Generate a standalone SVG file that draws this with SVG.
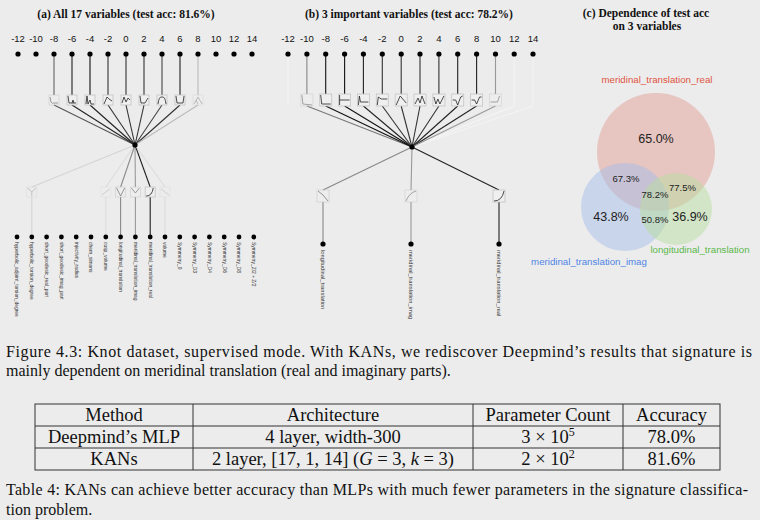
<svg xmlns="http://www.w3.org/2000/svg" width="760" height="520" viewBox="0 0 760 520">
  <style>
    .bg { fill: #ececec; }
    .title { font-family: "Liberation Serif", "Times New Roman", serif; font-weight: bold; font-size: 11.5px; fill: #111; text-anchor: middle; }
    .tick { font-family: "Liberation Sans", Arial, sans-serif; font-size: 9.5px; fill: #111; text-anchor: middle; }
    .dot { fill: #000; }
    .box { fill: #efefef; stroke: #c4c4c4; stroke-width: 0.8; }
    .act { fill: none; stroke-width: 0.8; stroke-linejoin: round; }
    .edge { fill: none; stroke-width: 1.1; }
    .vlab { font-family: "Liberation Sans", Arial, sans-serif; fill: #333; }
    .pct { font-family: "Liberation Sans", Arial, sans-serif; fill: #222; text-anchor: middle; }
    .vname { font-family: "Liberation Sans", Arial, sans-serif; font-size: 9.7px; text-anchor: middle; }
    .cap { font-family: "Liberation Serif", "Times New Roman", serif; font-size: 16px; fill: #111; }
    .tab { font-family: "Liberation Serif", "Times New Roman", serif; font-size: 18.5px; fill: #111; text-anchor: middle; }
    .grid { fill: none; stroke: #333; stroke-width: 1; }
  </style>

  <rect class="bg" x="0" y="0" width="760" height="520"/>

  <!-- Panel titles -->
  <text class="title" x="126" y="18">(a) All 17 variables (test acc: 81.6%)</text>
  <text class="title" x="409" y="18">(b) 3 important variables (test acc: 78.2%)</text>
  <text class="title" x="646" y="17">(c) Dependence of test acc</text>
  <text class="title" x="647" y="30">on 3 variables</text>

  <!-- ===================== Panel (a) ===================== -->
  <g id="a-connectors">
    <!-- output nodes to activation boxes -->
    <line class="edge" x1="54" y1="54" x2="54" y2="95" stroke="#666"/>
    <line class="edge" x1="72" y1="54" x2="72" y2="95" stroke="#222"/>
    <line class="edge" x1="90" y1="54" x2="90" y2="95" stroke="#111"/>
    <line class="edge" x1="108" y1="54" x2="108" y2="95" stroke="#333"/>
    <line class="edge" x1="126" y1="54" x2="126" y2="95" stroke="#333"/>
    <line class="edge" x1="144" y1="54" x2="144" y2="95" stroke="#333"/>
    <line class="edge" x1="162" y1="54" x2="162" y2="95" stroke="#444"/>
    <line class="edge" x1="180" y1="54" x2="180" y2="95" stroke="#222"/>
    <line class="edge" x1="198" y1="54" x2="198" y2="95" stroke="#bbb"/>
    <!-- activation boxes to hidden node -->
    <line class="edge" x1="54" y1="105" x2="135" y2="145" stroke="#555"/>
    <line class="edge" x1="72" y1="105" x2="135" y2="145" stroke="#222"/>
    <line class="edge" x1="90" y1="105" x2="135" y2="145" stroke="#222"/>
    <line class="edge" x1="108" y1="105" x2="135" y2="145" stroke="#333"/>
    <line class="edge" x1="126" y1="105" x2="135" y2="145" stroke="#333"/>
    <line class="edge" x1="144" y1="105" x2="135" y2="145" stroke="#333"/>
    <line class="edge" x1="162" y1="105" x2="135" y2="145" stroke="#444"/>
    <line class="edge" x1="180" y1="105" x2="135" y2="145" stroke="#333"/>
    <line class="edge" x1="198" y1="105" x2="135" y2="145" stroke="#bbb"/>
    <!-- hidden node to input activation boxes -->
    <line class="edge" x1="135" y1="145" x2="31.8" y2="187" stroke="#d4d4d4"/>
    <line class="edge" x1="135" y1="145" x2="105.8" y2="187" stroke="#dcdcdc"/>
    <line class="edge" x1="135" y1="145" x2="120.6" y2="187" stroke="#8a8a8a"/>
    <line class="edge" x1="135" y1="145" x2="135.4" y2="187" stroke="#999"/>
    <line class="edge" x1="135" y1="145" x2="150.2" y2="187" stroke="#222"/>
    <line class="edge" x1="135" y1="145" x2="165" y2="187" stroke="#dcdcdc"/>
    <!-- input activation boxes to input nodes -->
    <line class="edge" x1="31.8" y1="197" x2="31.8" y2="237" stroke="#d4d4d4"/>
    <line class="edge" x1="105.8" y1="197" x2="105.8" y2="237" stroke="#dcdcdc"/>
    <line class="edge" x1="120.6" y1="197" x2="120.6" y2="237" stroke="#8a8a8a"/>
    <line class="edge" x1="135.4" y1="197" x2="135.4" y2="237" stroke="#999"/>
    <line class="edge" x1="150.2" y1="197" x2="150.2" y2="237" stroke="#222"/>
    <line class="edge" x1="165" y1="197" x2="165" y2="237" stroke="#dcdcdc"/>
  </g>

  <!-- activation functions, panel (a) upper layer -->
  <g id="a-act-top">
    <g transform="translate(49,95)" opacity="0.55"><rect class="box" width="10" height="10"/><path class="act" stroke="#333" d="M1,2 L2,7 Q3,9 5,8 L9,8"/></g>
    <g transform="translate(67,95)"><rect class="box" width="10" height="10"/><path class="act" stroke="#222" d="M1,1 L2,8 L9,8 M5,8 L6,5 L7,8"/></g>
    <g transform="translate(85,95)"><rect class="box" width="10" height="10"/><path class="act" stroke="#222" d="M1,9 L2,1 L3,9 L5,5 L6,9 L9,9"/></g>
    <g transform="translate(103,95)"><rect class="box" width="10" height="10"/><path class="act" stroke="#222" d="M1,9 L4,2 L6,4 L9,6"/></g>
    <g transform="translate(121,95)"><rect class="box" width="10" height="10"/><path class="act" stroke="#222" d="M1,8 L3,2 L5,7 L7,3 L9,5"/></g>
    <g transform="translate(139,95)"><rect class="box" width="10" height="10"/><path class="act" stroke="#222" d="M1,1 L2,8 L6,8 L9,3"/></g>
    <g transform="translate(157,95)"><rect class="box" width="10" height="10"/><path class="act" stroke="#222" d="M1,9 Q2,1 5,2 Q8,1 9,9"/></g>
    <g transform="translate(175,95)"><rect class="box" width="10" height="10"/><path class="act" stroke="#222" d="M1,1 L2,8 L8,8 L9,1"/></g>
    <g transform="translate(193,95)" opacity="0.35"><rect class="box" width="10" height="10"/><path class="act" stroke="#333" d="M1,9 L5,2 L9,9 M3,5 L5,9"/></g>
  </g>

  <!-- activation functions, panel (a) lower layer -->
  <g id="a-act-bottom">
    <g transform="translate(26.8,187)" opacity="0.3"><rect class="box" width="10" height="10"/><path class="act" stroke="#333" d="M1,1 L5,5 L9,1 M5,5 L5,9"/></g>
    <g transform="translate(100.8,187)" opacity="0.2"><rect class="box" width="10" height="10"/><path class="act" stroke="#333" d="M1,8 L9,2"/></g>
    <g transform="translate(115.6,187)" opacity="0.6"><rect class="box" width="10" height="10"/><path class="act" stroke="#333" d="M1,1 L5,9 L9,1"/></g>
    <g transform="translate(130.4,187)" opacity="0.55"><rect class="box" width="10" height="10"/><path class="act" stroke="#333" d="M1,1 L5,6 L9,1"/></g>
    <g transform="translate(145.2,187)"><rect class="box" width="10" height="10" stroke="#888"/><path class="act" stroke="#222" d="M1,9 Q7,9 8,1"/></g>
    <g transform="translate(160,187)" opacity="0.2"><rect class="box" width="10" height="10"/><path class="act" stroke="#333" d="M1,2 L9,8"/></g>
  </g>

  <!-- output nodes, panel (a) -->
  <g id="a-out-m12"><circle class="dot" cx="18" cy="54" r="2.6"/><text class="tick" x="18" y="42">-12</text></g>
  <g id="a-out-m10"><circle class="dot" cx="36" cy="54" r="2.6"/><text class="tick" x="36" y="42">-10</text></g>
  <g id="a-out-m8"><circle class="dot" cx="54" cy="54" r="2.6"/><text class="tick" x="54" y="42">-8</text></g>
  <g id="a-out-m6"><circle class="dot" cx="72" cy="54" r="2.6"/><text class="tick" x="72" y="42">-6</text></g>
  <g id="a-out-m4"><circle class="dot" cx="90" cy="54" r="2.6"/><text class="tick" x="90" y="42">-4</text></g>
  <g id="a-out-m2"><circle class="dot" cx="108" cy="54" r="2.6"/><text class="tick" x="108" y="42">-2</text></g>
  <g id="a-out-0"><circle class="dot" cx="126" cy="54" r="2.6"/><text class="tick" x="126" y="42">0</text></g>
  <g id="a-out-2"><circle class="dot" cx="144" cy="54" r="2.6"/><text class="tick" x="144" y="42">2</text></g>
  <g id="a-out-4"><circle class="dot" cx="162" cy="54" r="2.6"/><text class="tick" x="162" y="42">4</text></g>
  <g id="a-out-6"><circle class="dot" cx="180" cy="54" r="2.6"/><text class="tick" x="180" y="42">6</text></g>
  <g id="a-out-8"><circle class="dot" cx="198" cy="54" r="2.6"/><text class="tick" x="198" y="42">8</text></g>
  <g id="a-out-10"><circle class="dot" cx="216" cy="54" r="2.6"/><text class="tick" x="216" y="42">10</text></g>
  <g id="a-out-12"><circle class="dot" cx="234" cy="54" r="2.6"/><text class="tick" x="234" y="42">12</text></g>
  <g id="a-out-14"><circle class="dot" cx="252" cy="54" r="2.6"/><text class="tick" x="252" y="42">14</text></g>

  <!-- hidden node, panel (a) -->
  <g id="a-hidden"><circle class="dot" cx="135" cy="145" r="2.6"/></g>

  <!-- input nodes, panel (a) -->
  <g id="a-in-0"><circle class="dot" cx="17" cy="237" r="2.4"/><text class="vlab" font-size="4.9" transform="translate(15.4,242) rotate(90)">hyperbolic_adjoint_torsion_degree</text></g>
  <g id="a-in-1"><circle class="dot" cx="31.8" cy="237" r="2.4"/><text class="vlab" font-size="4.9" transform="translate(30.2,242) rotate(90)">hyperbolic_torsion_degree</text></g>
  <g id="a-in-2"><circle class="dot" cx="46.6" cy="237" r="2.4"/><text class="vlab" font-size="4.9" transform="translate(45,242) rotate(90)">short_geodesic_real_part</text></g>
  <g id="a-in-3"><circle class="dot" cx="61.4" cy="237" r="2.4"/><text class="vlab" font-size="4.9" transform="translate(59.8,242) rotate(90)">short_geodesic_imag_part</text></g>
  <g id="a-in-4"><circle class="dot" cx="76.2" cy="237" r="2.4"/><text class="vlab" font-size="4.9" transform="translate(74.6,242) rotate(90)">injectivity_radius</text></g>
  <g id="a-in-5"><circle class="dot" cx="91" cy="237" r="2.4"/><text class="vlab" font-size="4.9" transform="translate(89.4,242) rotate(90)">chern_simons</text></g>
  <g id="a-in-6"><circle class="dot" cx="105.8" cy="237" r="2.4"/><text class="vlab" font-size="4.9" transform="translate(104.2,242) rotate(90)">cusp_volume</text></g>
  <g id="a-in-7"><circle class="dot" cx="120.6" cy="237" r="2.4"/><text class="vlab" font-size="4.9" transform="translate(119,242) rotate(90)">longitudinal_translation</text></g>
  <g id="a-in-8"><circle class="dot" cx="135.4" cy="237" r="2.4"/><text class="vlab" font-size="4.9" transform="translate(133.8,242) rotate(90)">meridinal_translation_imag</text></g>
  <g id="a-in-9"><circle class="dot" cx="150.2" cy="237" r="2.4"/><text class="vlab" font-size="4.9" transform="translate(148.6,242) rotate(90)">meridinal_translation_real</text></g>
  <g id="a-in-10"><circle class="dot" cx="165" cy="237" r="2.4"/><text class="vlab" font-size="4.9" transform="translate(163.4,242) rotate(90)">volume</text></g>
  <g id="a-in-11"><circle class="dot" cx="179.8" cy="237" r="2.4"/><text class="vlab" font-size="4.9" transform="translate(178.2,242) rotate(90)">Symmetry_0</text></g>
  <g id="a-in-12"><circle class="dot" cx="194.6" cy="237" r="2.4"/><text class="vlab" font-size="4.9" transform="translate(193,242) rotate(90)">Symmetry_D3</text></g>
  <g id="a-in-13"><circle class="dot" cx="209.4" cy="237" r="2.4"/><text class="vlab" font-size="4.9" transform="translate(207.8,242) rotate(90)">Symmetry_D4</text></g>
  <g id="a-in-14"><circle class="dot" cx="224.2" cy="237" r="2.4"/><text class="vlab" font-size="4.9" transform="translate(222.6,242) rotate(90)">Symmetry_D6</text></g>
  <g id="a-in-15"><circle class="dot" cx="239" cy="237" r="2.4"/><text class="vlab" font-size="4.9" transform="translate(237.4,242) rotate(90)">Symmetry_D8</text></g>
  <g id="a-in-16"><circle class="dot" cx="253.8" cy="237" r="2.4"/><text class="vlab" font-size="4.9" transform="translate(252.2,242) rotate(90)">Symmetry_Z/2 + Z/2</text></g>

  <!-- ===================== Panel (b) ===================== -->
  <g id="b-connectors">
    <!-- near-invisible pruned edges -->
    <line class="edge" x1="288" y1="54" x2="288" y2="106" stroke="#f4f4f4"/>
    <line class="edge" x1="514.2" y1="54" x2="514.2" y2="106" stroke="#f4f4f4"/>
    <line class="edge" x1="533" y1="54" x2="533" y2="106" stroke="#f4f4f4"/>
    <line class="edge" x1="514.2" y1="106" x2="412" y2="147" stroke="#f4f4f4"/>
    <line class="edge" x1="533" y1="106" x2="412" y2="147" stroke="#f4f4f4"/>
    <!-- output nodes to activation boxes -->
    <line class="edge" x1="306.9" y1="54" x2="306.9" y2="94" stroke="#888"/>
    <line class="edge" x1="325.7" y1="54" x2="325.7" y2="94" stroke="#111"/>
    <line class="edge" x1="344.6" y1="54" x2="344.6" y2="94" stroke="#111"/>
    <line class="edge" x1="363.4" y1="54" x2="363.4" y2="94" stroke="#222"/>
    <line class="edge" x1="382.3" y1="54" x2="382.3" y2="94" stroke="#333"/>
    <line class="edge" x1="401.2" y1="54" x2="401.2" y2="94" stroke="#333"/>
    <line class="edge" x1="420" y1="54" x2="420" y2="94" stroke="#333"/>
    <line class="edge" x1="438.9" y1="54" x2="438.9" y2="94" stroke="#333"/>
    <line class="edge" x1="457.7" y1="54" x2="457.7" y2="94" stroke="#222"/>
    <line class="edge" x1="476.6" y1="54" x2="476.6" y2="94" stroke="#222"/>
    <line class="edge" x1="495.5" y1="54" x2="495.5" y2="94" stroke="#999"/>
    <!-- activation boxes to hidden node -->
    <line class="edge" x1="306.9" y1="106" x2="412" y2="147" stroke="#777"/>
    <line class="edge" x1="325.7" y1="106" x2="412" y2="147" stroke="#111"/>
    <line class="edge" x1="344.6" y1="106" x2="412" y2="147" stroke="#111"/>
    <line class="edge" x1="363.4" y1="106" x2="412" y2="147" stroke="#222"/>
    <line class="edge" x1="382.3" y1="106" x2="412" y2="147" stroke="#333"/>
    <line class="edge" x1="401.2" y1="106" x2="412" y2="147" stroke="#333"/>
    <line class="edge" x1="420" y1="106" x2="412" y2="147" stroke="#333"/>
    <line class="edge" x1="438.9" y1="106" x2="412" y2="147" stroke="#333"/>
    <line class="edge" x1="457.7" y1="106" x2="412" y2="147" stroke="#222"/>
    <line class="edge" x1="476.6" y1="106" x2="412" y2="147" stroke="#222"/>
    <line class="edge" x1="495.5" y1="106" x2="412" y2="147" stroke="#999"/>
    <!-- hidden node to the three inputs -->
    <line class="edge" x1="412" y1="147" x2="323" y2="190" stroke="#888"/>
    <line class="edge" x1="412" y1="147" x2="411" y2="190" stroke="#999"/>
    <line class="edge" x1="412" y1="147" x2="499" y2="190" stroke="#222"/>
    <line class="edge" x1="323" y1="202" x2="323" y2="244" stroke="#888"/>
    <line class="edge" x1="411" y1="202" x2="411" y2="244" stroke="#999"/>
    <line class="edge" x1="499" y1="202" x2="499" y2="244" stroke="#222"/>
  </g>

  <!-- activation functions, panel (b) upper layer -->
  <g id="b-act-top">
    <g transform="translate(300.9,94)" opacity="0.5"><rect class="box" width="12" height="12"/><path class="act" stroke="#333" d="M1,1 L2,10 L11,11"/></g>
    <g transform="translate(319.7,94)"><rect class="box" width="12" height="12"/><path class="act" stroke="#222" d="M1,1 L2,10 L11,10"/></g>
    <g transform="translate(338.6,94)"><rect class="box" width="12" height="12"/><path class="act" stroke="#222" d="M1,1 L1,11 M1,6 L11,6"/></g>
    <g transform="translate(357.4,94)"><rect class="box" width="12" height="12"/><path class="act" stroke="#222" d="M1,11 L2,2 L3,8 L11,8"/></g>
    <g transform="translate(376.3,94)"><rect class="box" width="12" height="12"/><path class="act" stroke="#222" d="M1,11 L2,3 L5,5 L11,5"/></g>
    <g transform="translate(395.2,94)"><rect class="box" width="12" height="12"/><path class="act" stroke="#222" d="M1,11 L5,2 L11,9"/></g>
    <g transform="translate(414,94)"><rect class="box" width="12" height="12"/><path class="act" stroke="#222" d="M1,10 L4,4 L6,9 L8,2 L11,10"/></g>
    <g transform="translate(432.9,94)"><rect class="box" width="12" height="12"/><path class="act" stroke="#222" d="M1,3 L3,10 L5,5 L7,10 L11,2"/></g>
    <g transform="translate(451.7,94)"><rect class="box" width="12" height="12"/><path class="act" stroke="#222" d="M1,6 L4,6 L6,11 L9,3 L11,2"/></g>
    <g transform="translate(470.6,94)"><rect class="box" width="12" height="12"/><path class="act" stroke="#222" d="M1,6 L4,6 L6,10 L9,3 L11,3"/></g>
    <g transform="translate(489.5,94)" opacity="0.5"><rect class="box" width="12" height="12"/><path class="act" stroke="#333" d="M1,8 L8,8 L10,2"/></g>
  </g>

  <!-- activation functions, panel (b) lower layer -->
  <g id="b-act-bottom">
    <g transform="translate(317,190)" opacity="0.6"><rect class="box" width="12" height="12"/><path class="act" stroke="#333" d="M1,1 Q6,4 11,11"/></g>
    <g transform="translate(405,190)" opacity="0.5"><rect class="box" width="12" height="12"/><path class="act" stroke="#333" d="M1,11 Q4,3 11,1"/></g>
    <g transform="translate(493,190)"><rect class="box" width="12" height="12" stroke="#888"/><path class="act" stroke="#222" d="M1,11 Q9,11 11,1"/></g>
  </g>

  <!-- output nodes, panel (b) -->
  <g id="b-out-m12"><circle class="dot" cx="288" cy="54" r="2.6"/><text class="tick" x="288" y="42">-12</text></g>
  <g id="b-out-m10"><circle class="dot" cx="306.9" cy="54" r="2.6"/><text class="tick" x="306.9" y="42">-10</text></g>
  <g id="b-out-m8"><circle class="dot" cx="325.7" cy="54" r="2.6"/><text class="tick" x="325.7" y="42">-8</text></g>
  <g id="b-out-m6"><circle class="dot" cx="344.6" cy="54" r="2.6"/><text class="tick" x="344.6" y="42">-6</text></g>
  <g id="b-out-m4"><circle class="dot" cx="363.4" cy="54" r="2.6"/><text class="tick" x="363.4" y="42">-4</text></g>
  <g id="b-out-m2"><circle class="dot" cx="382.3" cy="54" r="2.6"/><text class="tick" x="382.3" y="42">-2</text></g>
  <g id="b-out-0"><circle class="dot" cx="401.2" cy="54" r="2.6"/><text class="tick" x="401.2" y="42">0</text></g>
  <g id="b-out-2"><circle class="dot" cx="420" cy="54" r="2.6"/><text class="tick" x="420" y="42">2</text></g>
  <g id="b-out-4"><circle class="dot" cx="438.9" cy="54" r="2.6"/><text class="tick" x="438.9" y="42">4</text></g>
  <g id="b-out-6"><circle class="dot" cx="457.7" cy="54" r="2.6"/><text class="tick" x="457.7" y="42">6</text></g>
  <g id="b-out-8"><circle class="dot" cx="476.6" cy="54" r="2.6"/><text class="tick" x="476.6" y="42">8</text></g>
  <g id="b-out-10"><circle class="dot" cx="495.5" cy="54" r="2.6"/><text class="tick" x="495.5" y="42">10</text></g>
  <g id="b-out-12"><circle class="dot" cx="514.2" cy="54" r="2.6"/><text class="tick" x="514.2" y="42">12</text></g>
  <g id="b-out-14"><circle class="dot" cx="533" cy="54" r="2.6"/><text class="tick" x="533" y="42">14</text></g>

  <!-- hidden node, panel (b) -->
  <g id="b-hidden"><circle class="dot" cx="412" cy="147" r="2.6"/></g>

  <!-- input nodes, panel (b) -->
  <g id="b-in-long"><circle class="dot" cx="323" cy="244" r="2.6"/><text class="vlab" font-size="5.8" transform="translate(321,250) rotate(90)">longitudinal_translation</text></g>
  <g id="b-in-imag"><circle class="dot" cx="411" cy="244" r="2.6"/><text class="vlab" font-size="5.8" transform="translate(409,250) rotate(90)">meridinal_translation_imag</text></g>
  <g id="b-in-real"><circle class="dot" cx="499" cy="244" r="2.6"/><text class="vlab" font-size="5.8" transform="translate(497,250) rotate(90)">meridinal_translation_real</text></g>

  <!-- ===================== Panel (c): Venn diagram ===================== -->
  <g id="venn">
    <circle cx="656" cy="152" r="59" fill="#e29e95" fill-opacity="0.5"/>
    <circle cx="625" cy="207" r="44" fill="#a6bee8" fill-opacity="0.5"/>
    <circle cx="676" cy="209" r="36" fill="#b8dea0" fill-opacity="0.5"/>
    <text class="vname" x="657" y="83" fill="#e0533f">meridinal_translation_real</text>
    <text class="vname" x="589" y="265" fill="#4f84e6">meridinal_translation_imag</text>
    <text class="vname" x="700" y="253" fill="#5bb84a">longitudinal_translation</text>
    <text class="pct" x="656" y="143" font-size="12.5">65.0%</text>
    <text class="pct" x="611" y="221" font-size="12.5">43.8%</text>
    <text class="pct" x="690" y="221" font-size="12.5">36.9%</text>
    <text class="pct" x="626" y="182" font-size="9.5">67.3%</text>
    <text class="pct" x="682.5" y="191" font-size="9.5">77.5%</text>
    <text class="pct" x="655" y="198" font-size="9.5">78.2%</text>
    <text class="pct" x="655" y="223" font-size="9.5">50.8%</text>
  </g>

  <!-- ===================== Figure caption ===================== -->
  <text class="cap" x="6" y="357" textLength="746" lengthAdjust="spacing">Figure 4.3: Knot dataset, supervised mode.  With KANs, we rediscover Deepmind’s results that signature is</text>
  <text class="cap" x="6" y="376">mainly dependent on meridinal translation (real and imaginary parts).</text>

  <!-- ===================== Table ===================== -->
  <g id="table">
    <rect class="grid" x="35" y="404" width="685" height="66"/>
    <line class="grid" x1="35" y1="426" x2="720" y2="426"/>
    <line class="grid" x1="35" y1="448" x2="720" y2="448"/>
    <line class="grid" x1="193" y1="404" x2="193" y2="470"/>
    <line class="grid" x1="473" y1="404" x2="473" y2="470"/>
    <line class="grid" x1="623" y1="404" x2="623" y2="470"/>

    <text class="tab" x="114" y="421">Method</text>
    <text class="tab" x="333" y="421">Architecture</text>
    <text class="tab" x="548" y="421">Parameter Count</text>
    <text class="tab" x="671.5" y="421">Accuracy</text>

    <text class="tab" x="114" y="443">Deepmind’s MLP</text>
    <text class="tab" x="333" y="443">4 layer, width-300</text>
    <text class="tab" x="548" y="443">3 × 10<tspan font-size="12" dy="-7">5</tspan></text>
    <text class="tab" x="671.5" y="443">78.0%</text>

    <text class="tab" x="114" y="465">KANs</text>
    <text class="tab" x="333" y="465">2 layer, [17, 1, 14] (<tspan font-style="italic">G</tspan> = 3, <tspan font-style="italic">k</tspan> = 3)</text>
    <text class="tab" x="548" y="465">2 × 10<tspan font-size="12" dy="-7">2</tspan></text>
    <text class="tab" x="671.5" y="465">81.6%</text>
  </g>

  <!-- ===================== Table caption ===================== -->
  <text class="cap" x="6" y="495" textLength="742" lengthAdjust="spacing">Table 4: KANs can achieve better accuracy than MLPs with much fewer parameters in the signature classifica-</text>
  <text class="cap" x="6" y="515">tion problem.</text>
</svg>
